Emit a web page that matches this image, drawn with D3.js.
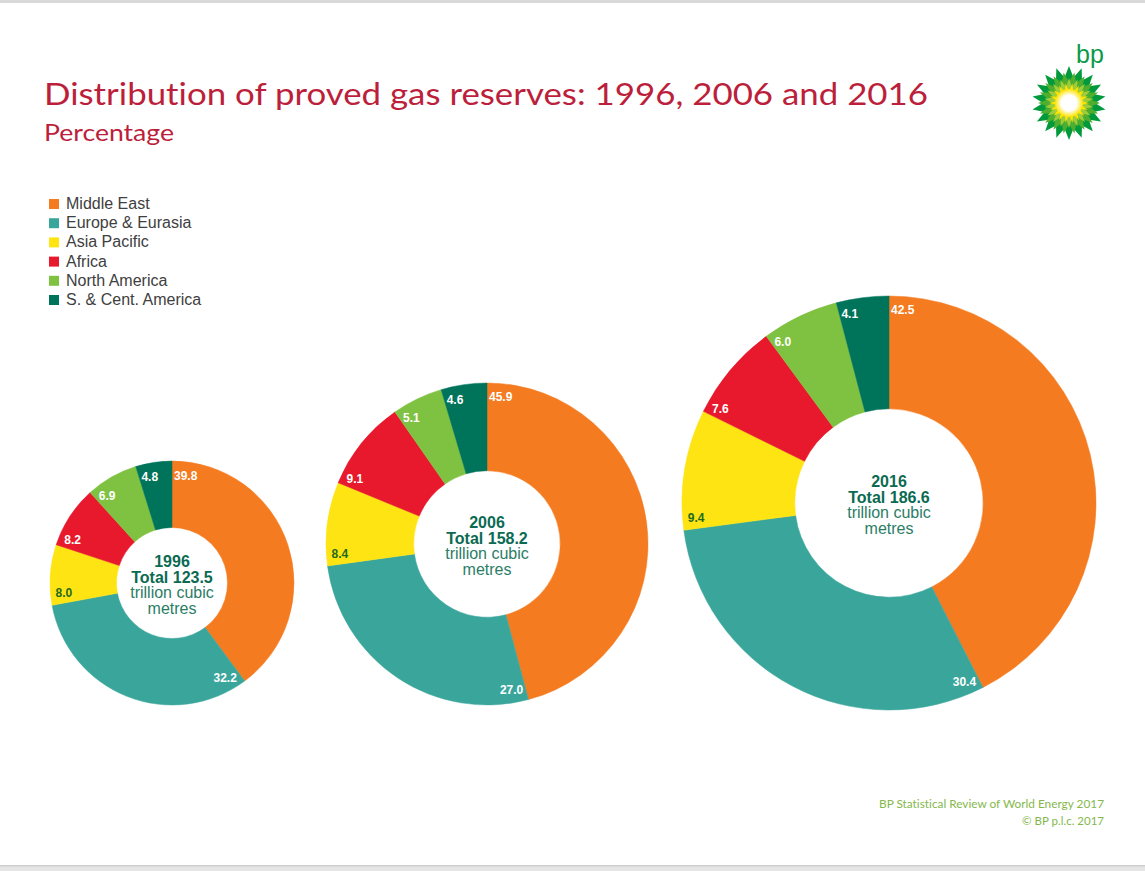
<!DOCTYPE html>
<html>
<head>
<meta charset="utf-8">
<script src="https://cdn.jsdelivr.net/npm/d3@7"></script>
<style>
  html, body { margin: 0; padding: 0; background: #fff; }
  svg { display: block; }
  text { font-variant-ligatures: none; }
</style>
</head>
<body>
<svg id="chart"></svg>
<script>
// data
const regions = [
  'Middle East',
  'Europe & Eurasia',
  'Asia Pacific',
  'Africa',
  'North America',
  'S. & Cent. America',
]
const years = ['1996', '2006', '2016']
const totals = [123.5, 158.2, 186.6]
const shares1996 = [39.8, 32.2, 8.0, 8.2, 6.9, 4.8]
const shares2006 = [45.9, 27.0, 8.4, 9.1, 5.1, 4.6]
const shares2016 = [42.5, 30.4, 9.4, 7.6, 6.0, 4.1]
const shares = [shares1996, shares2006, shares2016]

// styles
const colors = ['#f47b20', '#3aa69b', '#ffe414', '#e8192c', '#7fc241', '#00745a']
const labelColors = ['#fff', '#fff', '#1e6b1e', '#fff', '#fff', '#fff']
const textGreen = '#0b6a52'

// artboard
const width = 1145
const height = 871

// donut layout (centres and outer radii)
const donutCx = [172, 487, 889]
const donutCy = [583, 544, 503]
const donutR = [122, 161, 207]
const innerRatio = 0.455

const svg = d3.select('#chart').attr('width', width).attr('height', height)

// background + slide frame
svg.append('rect').attr('width', width).attr('height', height).attr('fill', '#fff')
svg.append('rect').attr('x', 0).attr('y', 0).attr('width', width).attr('height', 3).attr('fill', '#d9d9d9')
svg.append('rect').attr('x', 0).attr('y', 865).attr('width', width).attr('height', 6).attr('fill', '#e6e6e6')
svg.append('rect').attr('x', 0).attr('y', 865).attr('width', width).attr('height', 1.5).attr('fill', '#cfcfcf')

// title
const title = svg
  .append('text')
  .attr('x', 44)
  .attr('y', 105)
  .attr('fill', '#bc1f3c')
  .style('font-family', 'Lato, "Open Sans", sans-serif')
  .style('font-size', '31px')
  .text('Distribution of proved gas reserves: 1996, 2006 and 2016')
fitWidth(title, 884)

const subtitle = svg
  .append('text')
  .attr('x', 44)
  .attr('y', 141)
  .attr('fill', '#bc1f3c')
  .style('font-family', 'Lato, "Open Sans", sans-serif')
  .style('font-size', '23px')
  .text('Percentage')
fitWidth(subtitle, 130)

// legend
const legend = svg
  .append('g')
  .attr('id', 'legend')
  .selectAll('g')
  .data(regions)
  .join('g')
  .attr('transform', (d, i) => `translate(49, ${199 + i * 19.2})`)

legend
  .append('rect')
  .attr('width', 10)
  .attr('height', 10)
  .attr('fill', (d, i) => colors[i])

legend
  .append('text')
  .attr('x', 17)
  .attr('y', 10)
  .attr('fill', '#404040')
  .style('font-family', '"Liberation Sans", Arial, sans-serif')
  .style('font-size', '16px')
  .text((d) => d)

// donuts
const pie = d3
  .pie()
  .sort(null)
  .value((d) => d)

years.forEach((year, k) => {
  const R = donutR[k]
  const arc = d3.arc().innerRadius(R * innerRatio).outerRadius(R)

  const g = svg
    .append('g')
    .attr('id', 'donut' + year)
    .attr('transform', `translate(${donutCx[k]}, ${donutCy[k]})`)

  const arcs = pie(shares[k])

  g.selectAll('path')
    .data(arcs)
    .join('path')
    .attr('d', arc)
    .attr('fill', (d, i) => colors[i])
    .attr('stroke', (d, i) => colors[i])
    .attr('stroke-width', 0.5)

  // value labels, just clockwise of each slice's start edge
  const rl = R - 13.5
  g.append('g')
    .selectAll('text')
    .data(arcs)
    .join('text')
    .attr('text-anchor', 'middle')
    .attr('dy', '0.36em')
    .attr('fill', (d, i) => labelColors[i])
    .style('font-family', '"Liberation Sans", Arial, sans-serif')
    .style('font-size', '12px')
    .style('font-weight', 'bold')
    .text((d) => d3.format('.1f')(d.data))
    .each(function (d) {
      const w = this.getComputedTextLength()
      const a = d.startAngle + (w / 2 + 2) / rl
      d3.select(this)
        .attr('x', rl * Math.sin(a))
        .attr('y', -rl * Math.cos(a))
    })

  // centre text
  const centre = g
    .append('g')
    .attr('text-anchor', 'middle')
    .attr('fill', textGreen)
    .style('font-family', '"Liberation Sans", Arial, sans-serif')
    .style('font-size', '16px')

  const lines = [
    { t: year, bold: true },
    { t: 'Total ' + d3.format('.1f')(totals[k]), bold: true },
    { t: 'trillion cubic', bold: false },
    { t: 'metres', bold: false },
  ]
  centre
    .selectAll('text')
    .data(lines)
    .join('text')
    .attr('y', (d, i) => -16 + i * 15.6)
    .style('font-weight', (d) => (d.bold ? 'bold' : 'normal'))
    .attr('fill', (d) => (d.bold ? textGreen : '#2b7d66'))
    .text((d) => d.t)
})

// footer
const footer = svg
  .append('g')
  .attr('text-anchor', 'end')
  .attr('fill', '#84b84c')
  .style('font-family', 'Lato, "Open Sans", sans-serif')
  .style('font-size', '11.5px')
fitWidth(
  footer.append('text').attr('x', 1104).attr('y', 808).text('BP Statistical Review of World Energy 2017'),
  225
)
fitWidth(footer.append('text').attr('x', 1104).attr('y', 825).text('\u00a9 BP p.l.c. 2017'), 85)

// bp logo
const logo = svg.append('g').attr('id', 'bp-logo')
logo
  .append('text')
  .attr('x', 1076)
  .attr('y', 63)
  .attr('fill', '#0a9a48')
  .style('font-family', '"Liberation Sans", Arial, sans-serif')
  .style('font-size', '25px')
  .text('bp')

const helios = logo.append('g').attr('transform', 'translate(1069, 103)')
const layers = [
  { outer: 37, inner: 26, n: 18, off: 0, fill: '#009a3d' },
  { outer: 31, inner: 21, n: 18, off: 0.5, fill: '#4fae2e' },
  { outer: 25, inner: 16, n: 18, off: 0, fill: '#9fcc3a' },
  { outer: 20, inner: 12, n: 18, off: 0.5, fill: '#ffe300' },
]
layers.forEach((l) => {
  const pts = d3.range(l.n * 2).map((j) => [
    ((j + l.off * 2) * Math.PI) / l.n,
    j % 2 === 0 ? l.outer : l.inner,
  ])
  helios
    .append('path')
    .attr('d', d3.lineRadial().curve(d3.curveLinearClosed)(pts))
    .attr('fill', l.fill)
})
const grad = svg
  .append('defs')
  .append('radialGradient')
  .attr('id', 'heliosCore')
grad.append('stop').attr('offset', '0%').attr('stop-color', '#fff')
grad.append('stop').attr('offset', '55%').attr('stop-color', '#fff')
grad.append('stop').attr('offset', '100%').attr('stop-color', '#ffe300')
helios.append('circle').attr('r', 14).attr('fill', 'url(#heliosCore)')

// stretch or squeeze a text to the width
function fitWidth(sel, target) {
  const w = sel.node().getComputedTextLength()
  if (Math.abs(w - target) > 4) {
    sel.attr('textLength', target).attr('lengthAdjust', 'spacingAndGlyphs')
  }
  return sel
}
</script>
</body>
</html>
